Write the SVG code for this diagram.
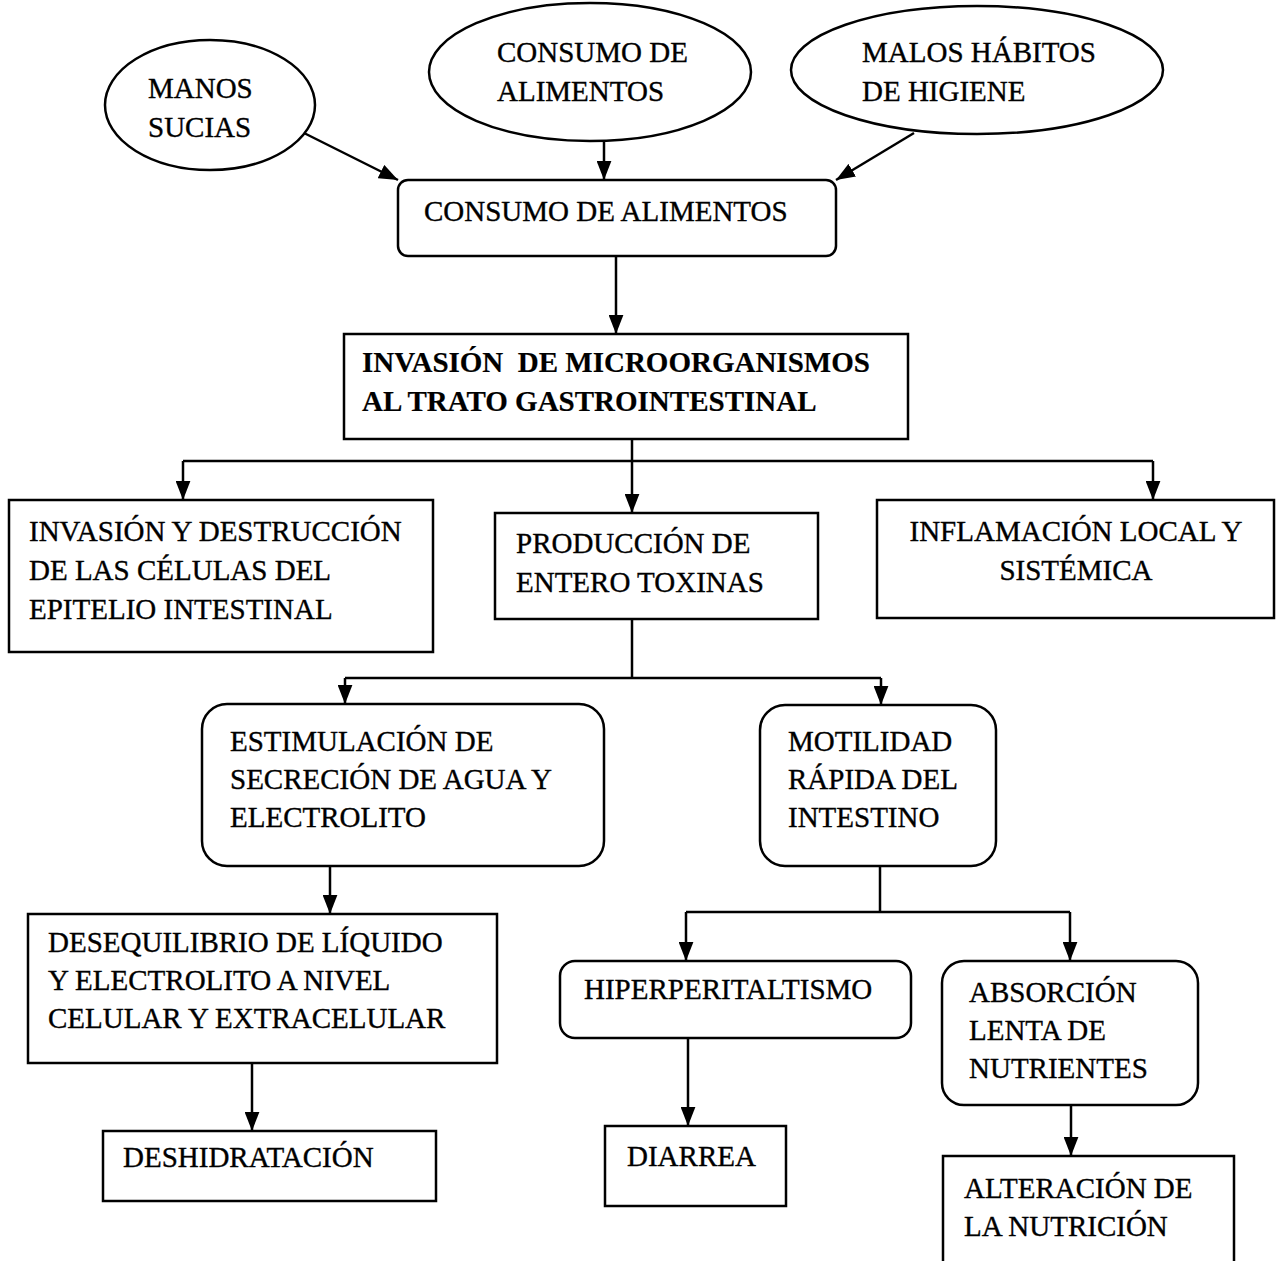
<svg xmlns="http://www.w3.org/2000/svg" width="1278" height="1261" viewBox="0 0 1278 1261">
<defs>
<style>
.n{fill:#fff;stroke:#000;stroke-width:2.5}
.t{font-family:"Liberation Serif","Times New Roman",serif;font-size:29px;fill:#000;stroke:#000;stroke-width:0.35}
.b{font-weight:bold;stroke-width:0.2}
.c{fill:none;stroke:#000;stroke-width:2.5}
.a{marker-end:url(#arr)}
</style>
<marker id="arr" viewBox="0 0 18 14" refX="18" refY="7" markerWidth="19" markerHeight="15" markerUnits="userSpaceOnUse" orient="auto">
<path d="M0,0 L18,7 L0,14 z" fill="#000"/>
</marker>
</defs>
<rect width="1278" height="1261" fill="#fff"/>

<g id="connectors">
<path class="c a" d="M300,131 L398,180"/>
<path class="c a" d="M604,140 V180"/>
<path class="c a" d="M914,133 L836,180"/>
<path class="c a" d="M616,256 V334"/>
<path class="c a" d="M632,439 V513"/>
<path class="c" d="M183,461 H1153"/>
<path class="c a" d="M183,461 V500"/>
<path class="c a" d="M1153,461 V500"/>
<path class="c" d="M632,619 V678"/>
<path class="c" d="M345,678 H881"/>
<path class="c a" d="M345,678 V704"/>
<path class="c a" d="M881,678 V705"/>
<path class="c a" d="M330,866 V914"/>
<path class="c a" d="M252,1063 V1131"/>
<path class="c" d="M880,866 V912"/>
<path class="c" d="M686,912 H1070"/>
<path class="c a" d="M686,912 V961"/>
<path class="c a" d="M1070,912 V961"/>
<path class="c a" d="M688,1038 V1126"/>
<path class="c a" d="M1071,1105 V1156"/>
</g>

<g id="manos">
<ellipse class="n" cx="210" cy="105" rx="105" ry="65"/>
<text class="t" x="148" y="98">MANOS</text>
<text class="t" x="148" y="137">SUCIAS</text>
</g>
<g id="consumo-ellipse">
<ellipse class="n" cx="590" cy="72" rx="161" ry="69"/>
<text class="t" x="497" y="62">CONSUMO DE</text>
<text class="t" x="497" y="101">ALIMENTOS</text>
</g>
<g id="malos">
<ellipse class="n" cx="977" cy="70" rx="186" ry="64"/>
<text class="t" x="862" y="62">MALOS HÁBITOS</text>
<text class="t" x="862" y="101">DE HIGIENE</text>
</g>
<g id="consumo">
<rect class="n" x="398" y="180" width="438" height="76" rx="10"/>
<text class="t" x="424" y="221">CONSUMO DE ALIMENTOS</text>
</g>
<g id="invasion">
<rect class="n" x="344" y="334" width="564" height="105"/>
<text class="t b" x="362" y="372" xml:space="preserve">INVASIÓN  DE MICROORGANISMOS</text>
<text class="t b" x="362" y="411">AL TRATO GASTROINTESTINAL</text>
</g>
<g id="destruccion">
<rect class="n" x="9" y="500" width="424" height="152"/>
<text class="t" x="29" y="541">INVASIÓN Y DESTRUCCIÓN</text>
<text class="t" x="29" y="580">DE LAS CÉLULAS DEL</text>
<text class="t" x="29" y="619">EPITELIO INTESTINAL</text>
</g>
<g id="produccion">
<rect class="n" x="495" y="513" width="323" height="106"/>
<text class="t" x="516" y="553">PRODUCCIÓN DE</text>
<text class="t" x="516" y="592">ENTERO TOXINAS</text>
</g>
<g id="inflamacion">
<rect class="n" x="877" y="500" width="397" height="118"/>
<text class="t" x="1076" y="541" text-anchor="middle">INFLAMACIÓN LOCAL Y</text>
<text class="t" x="1076" y="580" text-anchor="middle">SISTÉMICA</text>
</g>
<g id="estimulacion">
<rect class="n" x="202" y="704" width="402" height="162" rx="25"/>
<text class="t" x="230" y="751">ESTIMULACIÓN DE</text>
<text class="t" x="230" y="789">SECRECIÓN DE AGUA Y</text>
<text class="t" x="230" y="827">ELECTROLITO</text>
</g>
<g id="motilidad">
<rect class="n" x="760" y="705" width="236" height="161" rx="25"/>
<text class="t" x="788" y="751">MOTILIDAD</text>
<text class="t" x="788" y="789">RÁPIDA DEL</text>
<text class="t" x="788" y="827">INTESTINO</text>
</g>
<g id="desequilibrio">
<rect class="n" x="28" y="914" width="469" height="149"/>
<text class="t" x="48" y="952">DESEQUILIBRIO DE LÍQUIDO</text>
<text class="t" x="48" y="990">Y ELECTROLITO A NIVEL</text>
<text class="t" x="48" y="1028">CELULAR Y EXTRACELULAR</text>
</g>
<g id="hiper">
<rect class="n" x="560" y="961" width="351" height="77" rx="15"/>
<text class="t" x="584" y="999">HIPERPERITALTISMO</text>
</g>
<g id="absorcion">
<rect class="n" x="942" y="961" width="256" height="144" rx="22"/>
<text class="t" x="969" y="1002">ABSORCIÓN</text>
<text class="t" x="969" y="1040">LENTA DE</text>
<text class="t" x="969" y="1078">NUTRIENTES</text>
</g>
<g id="deshidratacion">
<rect class="n" x="103" y="1131" width="333" height="70"/>
<text class="t" x="123" y="1167">DESHIDRATACIÓN</text>
</g>
<g id="diarrea">
<rect class="n" x="605" y="1126" width="181" height="80"/>
<text class="t" x="627" y="1166">DIARREA</text>
</g>
<g id="alteracion">
<rect class="n" x="943" y="1156" width="291" height="120"/>
<text class="t" x="964" y="1198">ALTERACIÓN DE</text>
<text class="t" x="964" y="1236">LA NUTRICIÓN</text>
</g>
</svg>
